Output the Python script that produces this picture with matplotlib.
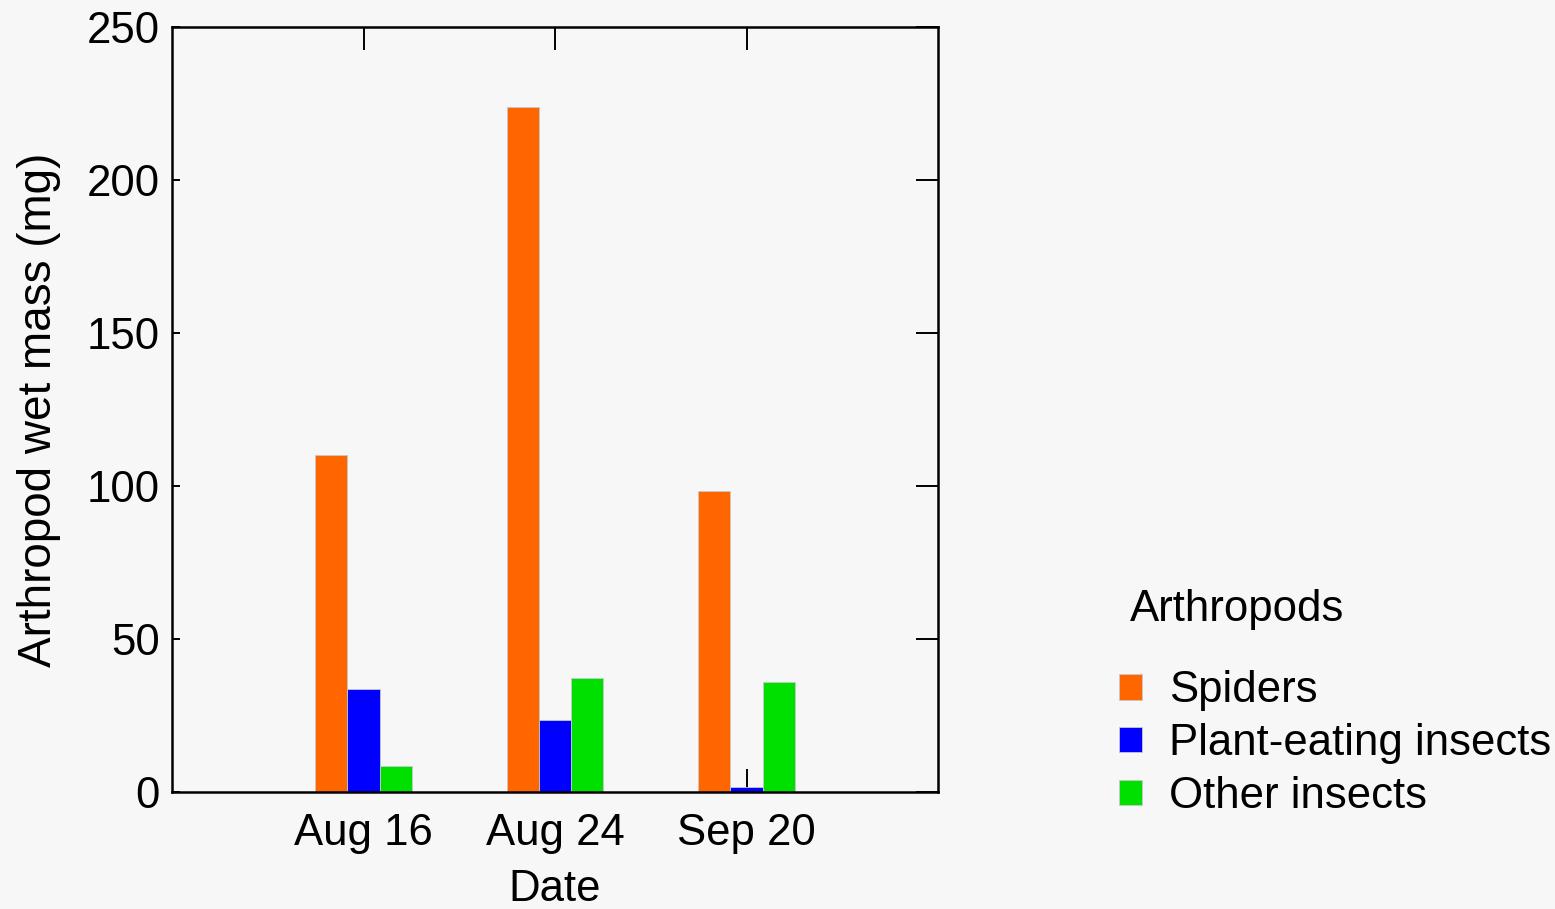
import matplotlib
import matplotlib.pyplot as plt
import numpy as np
from matplotlib.patches import Patch

matplotlib.rcParams['font.family'] = ['Liberation Sans', 'DejaVu Sans']
font_size = 31.5

dates = ['Aug 16', 'Aug 24', 'Sep 20']
groups = ['Spiders', 'Plant-eating insects', 'Other insects']
spiders = [110, 224, 98.5]
plant_eating = [33.5, 23.5, 1.6]
other = [8.5, 37.3, 36]
colors = ['#FF6600', '#0000FF', '#00E000']
bg = '#F7F7F7'

fig = plt.figure(figsize=(15.55, 9.09), dpi=100, facecolor=bg)
ax = fig.add_axes([172/1555, 1-792/909, (938-172)/1555, (792-27)/909])
ax.set_facecolor(bg)

x = np.arange(len(dates))
w = 0.168
for i, (vals, c) in enumerate(zip([spiders, plant_eating, other], colors)):
    ax.bar(x + (i-1)*w, vals, width=w, color=c, edgecolor='#c8c8c8', linewidth=0.6, zorder=2)

ax.set_xlim(-1, 3)
ax.set_ylim(0, 250)
ax.set_xticks(x)
ax.set_xticklabels(dates)
ax.set_yticks([0, 50, 100, 150, 200, 250])
ax.set_axisbelow(True)

for s in ax.spines.values():
    s.set_linewidth(1.8)
    s.set_zorder(3)
ax.tick_params(axis='y', direction='in', length=6, width=1.4, labelsize=font_size, pad=9)
ax.tick_params(axis='y', which='major', right=True)
ax.tick_params(axis='x', direction='in', length=16.5, width=1.4, labelsize=font_size, top=True, pad=15)
# right-side ticks are longer than the left ones
for t in ax.yaxis.get_major_ticks():
    t.tick2line.set_markersize(16)

ax.set_xlabel('Date', fontsize=font_size, labelpad=11)
ax.set_ylabel('Arthropod wet mass (mg)', fontsize=33, labelpad=18)

handles = [Patch(facecolor=c, edgecolor='#c8c8c8', linewidth=0.6) for c in colors]
leg = fig.legend(handles, groups, title='Arthropods', loc='upper left',
                 bbox_to_anchor=(1119/1555, 1-589/909), frameon=False,
                 fontsize=font_size, title_fontsize=font_size,
                 handlelength=0.53, handleheight=0.53, handletextpad=0.62,
                 labelspacing=0.27, borderaxespad=0, borderpad=0, alignment='left')
leg._legend_box.sep = 29
leg.get_title().set_position((11, 0))

fig.savefig('out.png', dpi=100, facecolor=bg)
